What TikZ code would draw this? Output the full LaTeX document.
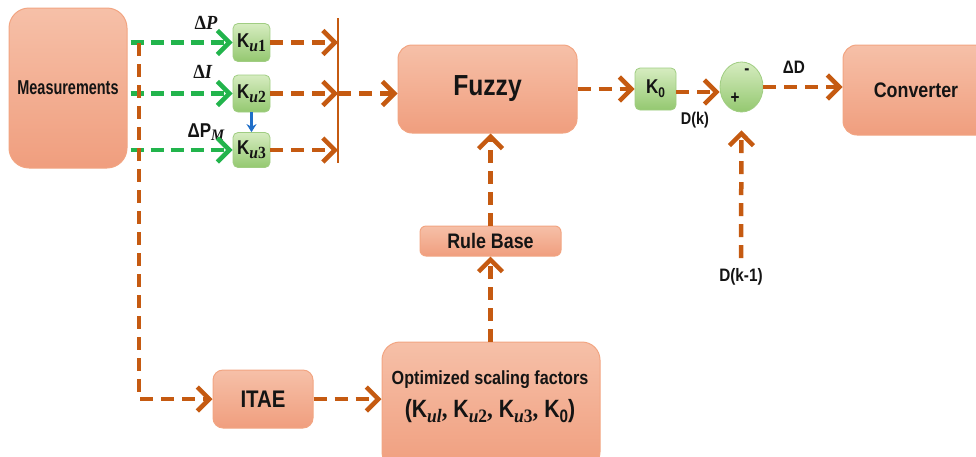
\documentclass[tikz,border=0pt]{standalone}
\usepackage{fontspec}
\setmainfont[FakeStretch=0.85]{Liberation Sans}
\newfontfamily\srf[FakeStretch=0.92]{Liberation Serif}
\usetikzlibrary{arrows.meta,shapes.geometric}
\definecolor{org}{RGB}{197,90,17}
\definecolor{grn}{RGB}{34,180,76}
\definecolor{boxtop}{RGB}{246,192,168}
\definecolor{boxbot}{RGB}{240,158,126}
\definecolor{boxline}{RGB}{242,165,130}
\definecolor{gtop}{RGB}{214,236,192}
\definecolor{gbot}{RGB}{148,200,112}
\definecolor{gline}{RGB}{160,205,130}
\definecolor{blu}{RGB}{31,110,200}
\definecolor{txt}{RGB}{20,20,20}
\newcommand\subit[2]{\raisebox{-0.35ex}{\fontsize{#1}{#1}\selectfont\srf\bfseries\itshape #2}}
\newcommand\subiu[3]{\raisebox{-0.35ex}{\fontsize{#1}{#1}\selectfont\srf\bfseries\itshape #2\upshape #3}}
\newcommand\subup[2]{\raisebox{-0.35ex}{\fontsize{#1}{#1}\selectfont\bfseries #2}}
\tikzset{
  bigbox/.style={draw=boxline, line width=1pt, top color=boxtop, bottom color=boxbot,
    rounded corners=14pt, inner sep=0pt, text=txt, font=\bfseries},
  gbox/.style={draw=gline, line width=0.8pt, top color=gtop, bottom color=gbot,
    rounded corners=5pt, minimum width=37pt, minimum height=38pt, inner sep=0pt,
    text=txt, font=\bfseries\fontsize{20}{20}\selectfont},
  oarr/.style={draw=org, line width=4.5pt, dash pattern=on 13pt off 8pt,
    -{Straight Barb[length=12pt,width=24pt]}},
  garr/.style={draw=grn, line width=4.5pt, dash pattern=on 13pt off 7pt,
    -{Straight Barb[length=12pt,width=24pt]}},
  lbl/.style={inner sep=0pt, text=txt, font=\bfseries\fontsize{17}{17}\selectfont},
}
\begin{document}
\begin{tikzpicture}[x=1pt,y=-1pt]
\useasboundingbox (0,0) rectangle (976,456);

% boxes
\node[bigbox, rounded corners=20pt, minimum width=118pt, minimum height=160pt,
  font=\bfseries\fontsize{17}{17}\selectfont] (meas) at (68,88) {\scalebox{1}[1.18]{Measurements}};
\node[bigbox, minimum width=179pt, minimum height=88pt,
  font=\bfseries\fontsize{29}{29}\selectfont] (fuzzy) at (487.5,89) {\raisebox{3pt}{Fuzzy}};
\node[bigbox, minimum width=150pt, minimum height=90pt,
  font=\bfseries\fontsize{21}{21}\selectfont] (conv) at (918,90) {\hspace*{-2pt}Converter\hspace*{2pt}};
\node[bigbox, rounded corners=6pt, minimum width=141pt, minimum height=30pt,
  font=\bfseries\fontsize{21}{21}\selectfont] (rule) at (490.5,241) {Rule Base};
\node[bigbox, rounded corners=10pt, minimum width=100pt, minimum height=58pt,
  font=\bfseries\fontsize{24}{24}\selectfont] (itae) at (263,399) {ITAE};
\node[bigbox, rounded corners=18pt, minimum width=218pt, minimum height=128pt] (opt) at (491,406) {};
\node[lbl, font=\bfseries\fontsize{19}{19}\selectfont] (opt1) at (490,380) {Optimized scaling factors};
\node[lbl, font=\bfseries\fontsize{25}{25}\selectfont] (opt2) at (490,411)
  {(K\subit{19}{ul}{\srf\bfseries,} K\subiu{19}{u}{2}{\srf\bfseries,} K\subiu{19}{u}{3}{\srf\bfseries,} K\subup{18}{0})};

% gain boxes
\node[gbox] (ku1) at (251.5,42.5) {K\subiu{17}{u}{1}};
\node[gbox, minimum height=37pt] (ku2) at (251.5,93.5) {K\subiu{17}{u}{2}};
\node[gbox, minimum height=35pt] (ku3) at (251.5,150) {K\subiu{17}{u}{3}};
\node[gbox, minimum width=41pt, minimum height=42pt] (k0) at (655.5,89) {K\subup{14}{0}};

% summing junction
\node[ellipse, draw=gline, line width=0.8pt, top color=gtop, bottom color=gbot,
  minimum width=43pt, minimum height=50pt, inner sep=0pt] (sum) at (741.5,87) {};
\node[lbl, font=\bfseries\fontsize{18}{18}\selectfont] (minus) at (747,72) {-};
\node[lbl, font=\bfseries\fontsize{18}{18}\selectfont] (plus) at (735,98) {+};

% labels
\node[lbl, font=\srf\bfseries\fontsize{20}{20}\selectfont] (lp) at (206,23) {Δ\textit{P}};
\node[lbl, font=\srf\bfseries\fontsize{20}{20}\selectfont] (li) at (203,72) {Δ\textit{I}};
\node[lbl, font=\bfseries\fontsize{20}{20}\selectfont] (lpm) at (206,132) {ΔP\subit{16}{M}};
\node[lbl] (dk) at (695,120) {D(k)};
\node[lbl, font=\bfseries\fontsize{18}{18}\selectfont] (dd) at (794,67) {ΔD};
\node[lbl, font=\bfseries\fontsize{18}{18}\selectfont] (dkm) at (741,277) {D(k-1)};

% coordinates
\coordinate (bartop) at (338,18);
\coordinate (barbot) at (338,163);
\coordinate (vtop) at (139,43);
\coordinate (vbot) at (139,399);
\coordinate (dkstart) at (741,258);

% green inputs
\draw[garr, shorten <=3pt] (meas.east |- ku1.west) -- (ku1.west);
\draw[garr, shorten <=3pt] (meas.east |- ku2.west) -- (ku2.west);
\draw[garr, shorten <=3pt] (meas.east |- ku3.west) -- (ku3.west);

% blue small arrow
\draw[blu, line width=2.4pt, -{Stealth[length=8pt,width=10pt]}] (ku2.south) -- (ku3.north);

% gains to bar
\draw[org, line width=2.2pt] (bartop) -- (barbot);
\draw[oarr] (ku1.east) -- (ku1.east -| bartop);
\draw[oarr] (ku2.east) -- (ku2.east -| bartop);
\draw[oarr] (ku3.east) -- (ku3.east -| bartop);
\draw[oarr] (ku2.east -| bartop) -- (ku2.east -| fuzzy.west);

% left vertical branch to ITAE
\draw[oarr] (vtop) -- (vbot) -- (vbot -| itae.west);
\draw[oarr] (itae.east) -- (itae.east -| opt.west);
\draw[oarr] (opt.north -| rule.south) -- (rule.south);
\draw[oarr] (rule.north) -- (rule.north |- fuzzy.south);

% forward path
\draw[oarr] (fuzzy.east |- k0.west) -- (k0.west);
\draw[oarr] ([yshift=-3pt]k0.east) -- ([yshift=-3pt]k0.east -| sum.west);
\draw[oarr] (sum.east) -- (sum.east -| conv.west);
\draw[oarr, shorten >=18pt] (dkstart) -- (sum.south);
\end{tikzpicture}
\end{document}
